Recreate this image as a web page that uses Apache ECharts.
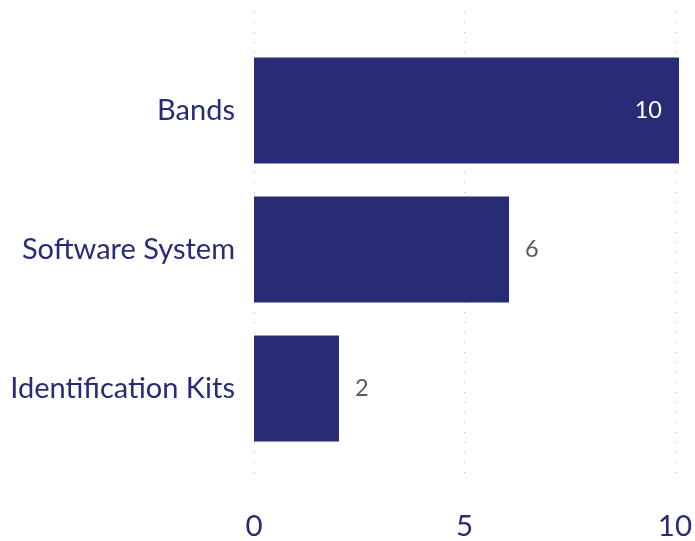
<!DOCTYPE html>
<html><head><meta charset="utf-8">
<script src="https://cdn.jsdelivr.net/npm/echarts@6/dist/echarts.min.js"></script>
<style>html,body{margin:0;padding:0;background:#fff}#c{width:695px;height:541px}</style>
</head><body><div id="c"></div>
<script>
var categories = ['Bands', 'Software System', 'Identification Kits'];
var values = [10, 6, 2];
var xTicks = [0, 5, 10];

var navy = '#282b75';
var font = 'Lato';
var chart = echarts.init(document.getElementById('c'));
chart.setOption({
  animation: false,
  grid: [
    {left: 254, right: 16, top: 12, bottom: 48},
    {left: 254, right: 16, top: 41, bottom: 83}
  ],
  xAxis: [
    {gridIndex: 0, type: 'value', min: xTicks[0], max: xTicks[xTicks.length - 1], interval: xTicks[1] - xTicks[0],
     axisLine: {show: false}, axisTick: {show: false},
     axisLabel: {color: navy, fontFamily: font, fontSize: 29.5, margin: 29},
     splitLine: {show: true, lineStyle: {color: '#bdbdbd', width: 1, type: [1, 9]}}},
    {gridIndex: 1, type: 'value', min: xTicks[0], max: xTicks[xTicks.length - 1], show: false, splitLine: {show: false}}
  ],
  yAxis: [
    {gridIndex: 0, type: 'category', data: categories, show: false},
    {gridIndex: 1, type: 'category', data: categories, inverse: true,
     axisLine: {show: false}, axisTick: {show: false},
     axisLabel: {color: navy, fontFamily: font, fontSize: 29, margin: 19, lineHeight: 29, padding: [8, 0, 0, 0]}}
  ],
  series: [{
    type: 'bar', xAxisIndex: 1, yAxisIndex: 1,
    barCategoryGap: '23.7%',
    itemStyle: {color: navy},
    data: values.map(function (v, i) {
      var inside = v === Math.max.apply(null, values);
      return {value: v, label: inside
        ? {show: true, position: 'insideRight', distance: 17, color: '#fff', fontFamily: font, fontSize: 23.5, lineHeight: 24, padding: [5, 0, 0, 0]}
        : {show: true, position: 'right', distance: 16, color: '#5a5a5a', fontFamily: font, fontSize: 23.5, lineHeight: 24, padding: [5, 0, 0, 0]}};
    })
  }]
});
</script></body></html>
